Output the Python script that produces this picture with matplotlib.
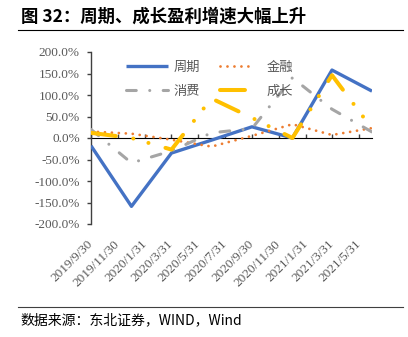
import matplotlib
matplotlib.use("Agg")
import matplotlib.pyplot as plt
import matplotlib.dates as mdates
import pandas as pd
from matplotlib.lines import Line2D

# ---- data ----
dates = ["2019-09-30", "2019-12-31", "2020-03-31", "2020-06-30",
         "2020-09-30", "2020-12-31", "2021-03-31", "2021-06-30"]
cycle = [-18, -159, -35, -5, 26, 0, 158, 109]        # 周期
finance = [15, 10, -4, -20, 5, 32, 7, 23]            # 金融
consumer = [20, -58, -30, 12, 22, 140, 67, 14]       # 消费
growth = [12, 0, -27, 92, 47, 0, 146, 22]            # 成长
series_names = ["周期", "金融", "消费", "成长"]
tick_dates = list(pd.date_range("2019-09-30", "2021-05-31", freq="2ME"))
tick_labels = [f"{d.year}/{d.month}/{d.day}" for d in tick_dates]
y_ticks = [-200, -150, -100, -50, 0, 50, 100, 150, 200]

plt.rcParams['font.family'] = ['Noto Sans CJK SC', 'DejaVu Sans']

W, H = 408, 337
fig = plt.figure(figsize=(W / 100, H / 100), dpi=100)

def fx(px):
    return px / W

def fy(py):
    return 1 - py / H

ax = fig.add_axes([fx(91), fy(224), fx(372) - fx(91), fy(52) - fy(224)])

x = mdates.date2num(pd.to_datetime(dates))
xt = mdates.date2num(pd.DatetimeIndex(tick_dates))

GRAY_TXT = "#595959"
c_blue, c_orange, c_gray, c_yellow = "#4472C4", "#ED7D31", "#A5A5A5", "#FFC000"

l1, = ax.plot(x, cycle, color=c_blue, lw=2.4, solid_capstyle="butt", zorder=3)
l2, = ax.plot(x, finance, color=c_orange, lw=2.0, dashes=(0.01, 2.5),
              dash_capstyle="round", zorder=4)
l3, = ax.plot(x, consumer, color=c_gray, lw=2.2, dashes=(3.2, 4.4, 0.01, 4.4),
              dash_capstyle="round", zorder=5)
l4, = ax.plot(x, growth, color=c_yellow, lw=2.9, dashes=(6.2, 4.4, 0.01, 3.9, 0.01, 4.4),
              dash_capstyle="round", zorder=6)

ax.set_xlim(x[0], x[-1])
ax.set_ylim(-200, 200)
ax.set_yticks(y_ticks)
ax.set_yticklabels([f"{v:.1f}%" for v in y_ticks], family=["Liberation Serif"],
                   fontsize=9.5, color=GRAY_TXT)
ax.tick_params(axis="y", direction="out", length=3, width=1, color="#404040", pad=5)

# bottom labels (no tick marks)
ax.set_xticks(xt)
ax.set_xticklabels(tick_labels, rotation=45, ha="right", va="center",
                   rotation_mode="anchor", family=["Liberation Serif"],
                   fontsize=9.5, color=GRAY_TXT)
ax.tick_params(axis="x", length=0, pad=13)

for s in ["top", "right", "bottom"]:
    ax.spines[s].set_visible(False)
ax.spines["left"].set_color("#404040")
ax.spines["left"].set_linewidth(1.0)

# zero axis line with tick marks
sec = ax.secondary_xaxis(0.5)
sec.set_xticks(xt)
sec.set_xticklabels([])
sec.tick_params(axis="x", direction="out", length=3, width=1, color="#404040")
sec.spines["bottom"].set_color("black")
sec.spines["bottom"].set_linewidth(1.0)
ax.set_facecolor("none")

# legends
leg1 = fig.legend([l1, l3], [series_names[0], series_names[2]], loc="upper left",
                  bbox_to_anchor=(fx(126), fy(61)), frameon=False, borderpad=0,
                  borderaxespad=0, handlelength=3.2, handletextpad=0.4,
                  labelspacing=0.82, fontsize=9.5, labelcolor=GRAY_TXT)
leg2 = fig.legend([l2, l4], [series_names[1], series_names[3]], loc="upper left",
                  bbox_to_anchor=(fx(220), fy(61)), frameon=False, borderpad=0,
                  borderaxespad=0, handlelength=2.4, handletextpad=1.1,
                  labelspacing=0.82, fontsize=9.5, labelcolor=GRAY_TXT)

# title & source
fig.text(fx(21), fy(17), "图 32：周期、成长盈利增速大幅上升", fontsize=12.5,
         fontweight="bold", va="center", ha="left", color="black")
fig.add_artist(Line2D([fx(18), fx(403)], [fy(30), fy(30)], color="black", lw=0.8))
fig.add_artist(Line2D([fx(18), fx(403)], [fy(307), fy(307)], color="#404040", lw=0.8))
fig.text(fx(20), fy(320), "数据来源：东北证券，WIND，Wind", fontsize=10,
         va="center", ha="left", color="black")

fig.savefig("out.png", dpi=100)
